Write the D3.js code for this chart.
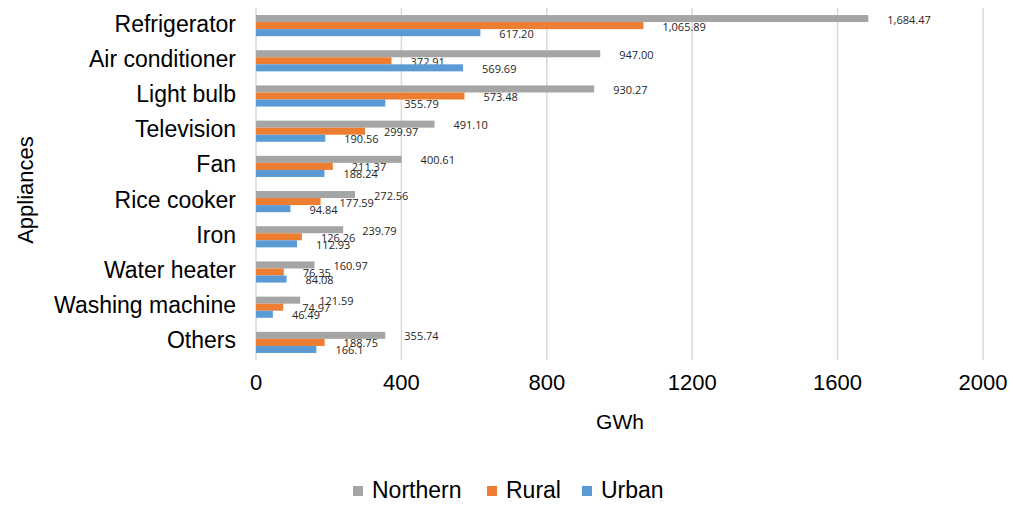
<!DOCTYPE html>
<html lang="en">
<head>
    <meta charset="UTF-8">
    <title>Appliance consumption</title>
    <script src="https://d3js.org/d3.v7.min.js"></script>
    <style>
        body { margin: 0; background: #fff; }
        svg text { font-family: "Liberation Sans", Arial, sans-serif; fill: #000; }
        .lbl { font-family: "Open Sans", sans-serif !important; font-size: 11px; fill: #262626 !important; }
    </style>
</head>
<body>
<div id="chart"></div>
<script>
    // data
    const appliances = ["Refrigerator", "Air conditioner", "Light bulb", "Television", "Fan",
        "Rice cooker", "Iron", "Water heater", "Washing machine", "Others"];
    const series = ["Northern", "Rural", "Urban"];
    const northern = [1684.47, 947.00, 930.27, 491.10, 400.61, 272.56, 239.79, 160.97, 121.59, 355.74];
    const rural = [1065.89, 372.91, 573.48, 299.97, 211.37, 177.59, 126.26, 76.35, 74.97, 188.75];
    const urban = [617.20, 569.69, 355.79, 190.56, 188.24, 94.84, 112.93, 84.08, 46.49, 166.1];
    const urbanText = ["617.20", "569.69", "355.79", "190.56", "188.24", "94.84", "112.93", "84.08", "46.49", "166.1"];
    const xTicks = [0, 400, 800, 1200, 1600, 2000];
    const colors = {Northern: "#a5a5a5", Rural: "#ed7d31", Urban: "#5b9bd5"};

    const values = {Northern: northern, Rural: rural, Urban: urban};
    const fmt = d3.format(",.2f");

    const W = 1013, H = 505;
    const svg = d3.select("#chart").append("svg").attr("width", W).attr("height", H);

    const x = d3.scaleLinear().domain([0, 2000]).range([256, 983]);
    const y = d3.scaleBand().domain(appliances).range([8, 360]).paddingInner(0.4).paddingOuter(0.2);
    const ySub = d3.scaleBand().domain(series).range([0, y.bandwidth()]);

    // gridlines
    svg.append("g").selectAll("line").data(xTicks).join("line")
        .attr("x1", d => x(d)).attr("x2", d => x(d))
        .attr("y1", 8).attr("y2", 360)
        .attr("stroke", "#d9d9d9").attr("stroke-width", 1.5);

    // bars
    const groups = svg.append("g").selectAll("g").data(appliances).join("g")
        .attr("transform", d => `translate(0,${y(d)})`);

    series.forEach(s => {
        groups.append("rect")
            .attr("x", x(0))
            .attr("y", ySub(s))
            .attr("width", (d, i) => x(values[s][i]) - x(0))
            .attr("height", ySub.bandwidth())
            .attr("fill", colors[s]);
        groups.append("text").attr("class", "lbl")
            .attr("x", (d, i) => x(values[s][i]) + 19)
            .attr("y", ySub(s) + ySub.bandwidth() / 2 + 2)
            .attr("dominant-baseline", "middle")
            .text((d, i) => s === "Urban" ? urbanText[i] : fmt(values[s][i]));
    });

    // category labels
    svg.append("g").selectAll("text").data(appliances).join("text")
        .attr("x", 236)
        .attr("y", d => y(d) + y.bandwidth() / 2)
        .attr("text-anchor", "end")
        .attr("dominant-baseline", "middle")
        .style("font-size", "23px")
        .text(d => d);

    // x tick labels
    svg.append("g").selectAll("text").data(xTicks).join("text")
        .attr("x", d => x(d))
        .attr("y", 384)
        .attr("text-anchor", "middle")
        .attr("dominant-baseline", "middle")
        .style("font-size", "22px")
        .text(d => d);

    // axis titles
    svg.append("text")
        .attr("x", 620).attr("y", 423)
        .attr("text-anchor", "middle").attr("dominant-baseline", "middle")
        .style("font-size", "21px")
        .text("GWh");

    svg.append("text")
        .attr("transform", "translate(27,190) rotate(-90)")
        .attr("text-anchor", "middle").attr("dominant-baseline", "middle")
        .style("font-size", "22px")
        .text("Appliances");

    // legend
    const legendX = [353, 487, 582];
    const legend = svg.append("g").selectAll("g").data(series).join("g")
        .attr("transform", (d, i) => `translate(${legendX[i]},491)`);
    legend.append("rect")
        .attr("x", 0).attr("y", -5).attr("width", 10).attr("height", 10)
        .attr("fill", d => colors[d]);
    legend.append("text")
        .attr("x", 19).attr("y", 1)
        .attr("dominant-baseline", "middle")
        .style("font-size", "23px")
        .text(d => d);
</script>
</body>
</html>
